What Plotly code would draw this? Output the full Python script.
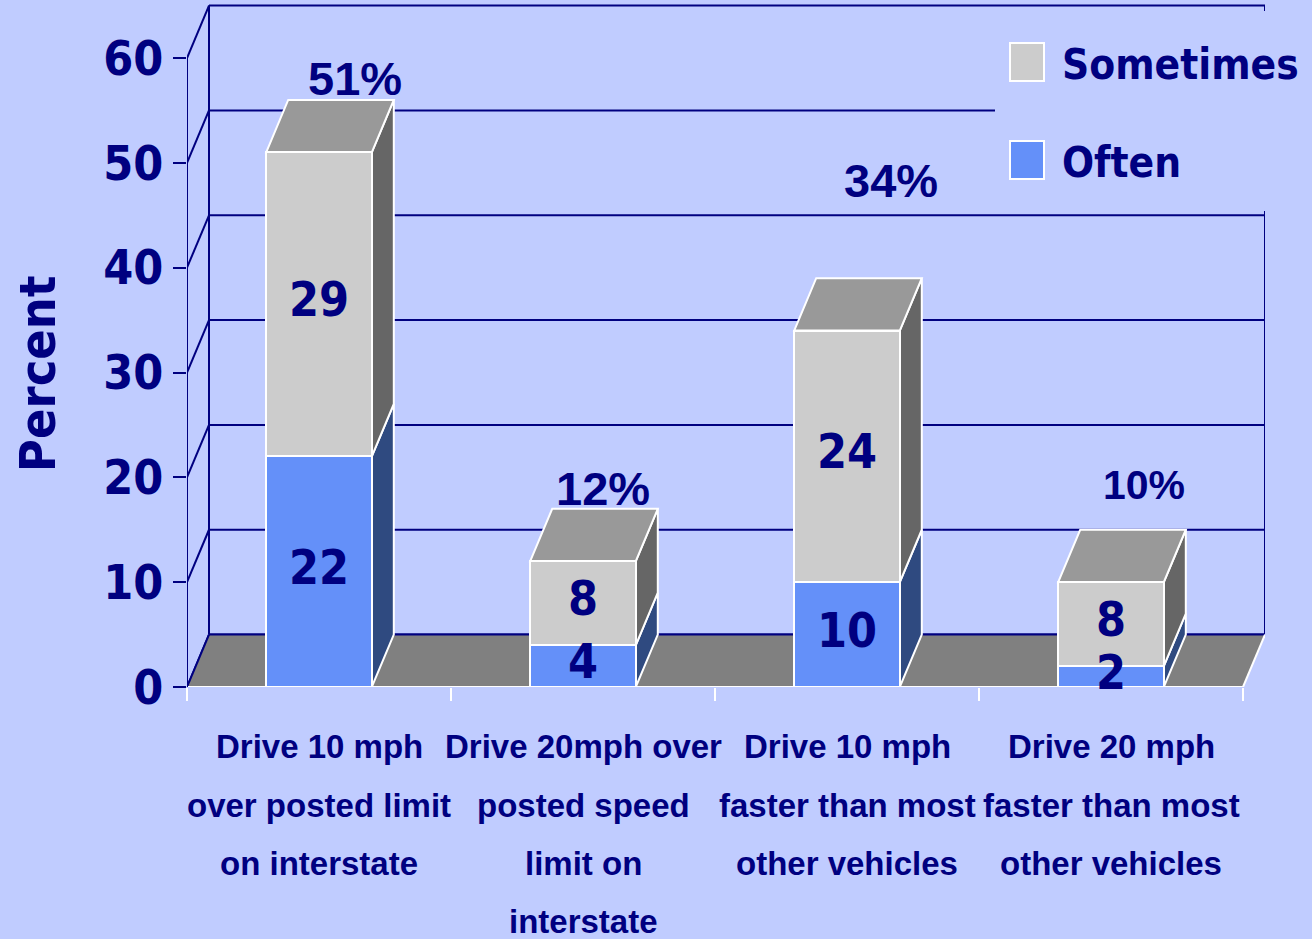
import plotly.graph_objects as go

# ─── Data ─────────────────────────────────────────────────────────────────────
categories = [
    "Drive 10 mph\nover posted limit\non interstate",
    "Drive 20mph over\nposted speed\nlimit on\ninterstate",
    "Drive 10 mph\nfaster than most\nother vehicles",
    "Drive 20 mph\nfaster than most\nother vehicles",
]
often = [22, 4, 10, 2]
sometimes = [29, 8, 24, 8]
y_ticks = [0, 10, 20, 30, 40, 50, 60]

# ─── Theme ────────────────────────────────────────────────────────────────────
BG = "#C0CCFF"
NAVY = "#000080"
GREY_FRONT = "#CCCCCC"
GREY_TOP = "#999999"
GREY_SIDE = "#666666"
BLUE_FRONT = "#6490F9"
BLUE_SIDE = "#2F4A80"
FLOOR = "#808080"
NARROW = "DejaVu Sans Condensed, sans-serif"
WIDE = "Liberation Sans, Arial, sans-serif"

W, H = 1312, 939
L, R, T, B = 187, 47, 4, 252
PW, PH = W - L - R, H - T - B
DX = 22 / 264          # depth offset in category units
DY = 5                 # depth offset in percent units
YTOP = PH / 10.483
BAR_W = 0.4

n = len(categories)
xs = list(range(n))
totals = [a + b for a, b in zip(often, sometimes)]


def px_x(p):
    return (p - L) / PW


def px_y(p):
    return (H - B - p) / PH


def line(x0, y0, x1, y1, color=NAVY, width=2):
    return dict(type="line", x0=x0, y0=y0, x1=x1, y1=y1, xref="x", yref="y",
                line=dict(color=color, width=width), layer="below")


def poly(pts, fill, edge="white"):
    path = "M " + " L ".join(f"{x},{y}" for x, y in pts) + " Z"
    return dict(type="path", path=path, xref="x", yref="y", fillcolor=fill,
                line=dict(color=edge, width=2), layer="below")


shapes = []

# back wall + left wall grid
for v in y_ticks:
    shapes.append(line(-0.5, v, -0.5 + DX, v + DY))
    shapes.append(line(-0.5 + DX, v + DY, n - 0.5 + DX, v + DY))
shapes.append(line(-0.5 + DX, DY, -0.5 + DX, y_ticks[-1] + DY))
shapes.append(line(n - 0.5 + DX, DY, n - 0.5 + DX, y_ticks[-1] + DY))

# floor
shapes.append(poly([(-0.5, 0), (n - 0.5, 0), (n - 0.5 + DX, DY), (-0.5 + DX, DY)],
                   FLOOR, edge="rgba(0,0,0,0)"))
shapes.append(line(-0.5, 0, -0.5 + DX, DY))
shapes.append(line(-0.5 + DX, DY, n - 0.5 + DX, DY))
shapes.append(line(n - 0.5, 0, n - 0.5 + DX, DY, color="white"))
shapes.append(line(-0.5, 0, n - 0.5, 0, color="white"))
# front y axis line
shapes.append(line(-0.5, 0, -0.5, y_ticks[-1]))

# bar side and top faces
for i in xs:
    x0, x1 = i - BAR_W / 2, i + BAR_W / 2
    segs = [(0, often[i], BLUE_SIDE), (often[i], totals[i], GREY_SIDE)]
    for y0, y1, c in segs:
        shapes.append(poly([(x1, y0), (x1 + DX, y0 + DY), (x1 + DX, y1 + DY), (x1, y1)], c))
    top = totals[i]
    shapes.append(poly([(x0, top), (x0 + DX, top + DY), (x1 + DX, top + DY), (x1, top)], GREY_TOP))

# legend cover box and swatches
shapes.append(dict(type="rect", xref="paper", yref="paper", x0=px_x(995), x1=px_x(1312),
                   y0=px_y(211), y1=px_y(11), fillcolor=BG, line=dict(width=0), layer="above"))
for (top_px, c) in [(43, GREY_FRONT), (141, BLUE_FRONT)]:
    shapes.append(dict(type="rect", xref="paper", yref="paper", x0=px_x(1010), x1=px_x(1044),
                       y0=px_y(top_px + 38), y1=px_y(top_px), fillcolor=c,
                       line=dict(color="white", width=2), layer="above"))

fig = go.Figure()
fig.add_trace(go.Bar(x=xs, y=often, name="Often", width=BAR_W,
                     marker=dict(color=BLUE_FRONT, line=dict(color="white", width=2))))
fig.add_trace(go.Bar(x=xs, y=sometimes, name="Sometimes", width=BAR_W,
                     marker=dict(color=GREY_FRONT, line=dict(color="white", width=2))))

# segment value labels
seg_x = xs + xs
seg_y = [v / 2 for v in often] + [o + s / 2 for o, s in zip(often, sometimes)]
seg_t = [str(v) for v in often] + [str(v) for v in sometimes]
fig.add_trace(go.Scatter(x=seg_x, y=seg_y, text=seg_t, mode="text", cliponaxis=False,
                         textfont=dict(family=NARROW, size=48, color=NAVY, weight="bold"),
                         hoverinfo="skip"))

annotations = []
# total percent labels (offsets in px from the bar top)
pct_shift = [(36, 74, 47), (20, 73, 47), (44, 150, 47), (33, 97, 41)]
for i in xs:
    dxp, dyp, fs = pct_shift[i]
    annotations.append(dict(x=i, y=totals[i], xref="x", yref="y", text=f"{totals[i]}%",
                            showarrow=False, xshift=dxp, yshift=dyp,
                            font=dict(family=WIDE, size=fs, color=NAVY, weight="bold")))

# category labels, one annotation per line to match the wide line spacing
line_px = [746, 805, 863, 921]
for i, cat in enumerate(categories):
    for k, txt in enumerate(cat.split("\n")):
        annotations.append(dict(x=i, y=0, xref="x", yref="y", text=txt, showarrow=False,
                                yshift=-(line_px[k] - (H - B)), yanchor="middle",
                                font=dict(family=WIDE, size=33, color=NAVY, weight="bold")))

# legend text
for txt, cy in [("Sometimes", 64), ("Often", 163)]:
    annotations.append(dict(x=px_x(1060), y=px_y(cy), xref="paper", yref="paper", text=txt,
                            showarrow=False, xanchor="left", yanchor="middle",
                            font=dict(family=NARROW, size=42, color=NAVY, weight="bold")))

# y axis title
annotations.append(dict(x=px_x(38), y=px_y(374), xref="paper", yref="paper", text="Percent",
                        showarrow=False, textangle=-90, xanchor="center", yanchor="middle",
                        font=dict(family=NARROW, size=50, color=NAVY, weight="bold")))

fig.update_layout(
    width=W, height=H,
    barmode="stack",
    showlegend=False,
    paper_bgcolor=BG, plot_bgcolor=BG,
    margin=dict(l=L, r=R, t=T, b=B),
    xaxis=dict(range=[-0.5, n - 0.5 + DX], showgrid=False, zeroline=False,
               tickvals=[i - 0.5 for i in range(n + 1)], ticks="outside", ticklen=13,
               tickcolor="white", tickwidth=2, showticklabels=False, showline=False),
    yaxis=dict(range=[0, YTOP], showgrid=False, zeroline=False, tickvals=y_ticks,
               ticks="outside", ticklen=13, tickcolor=NAVY, tickwidth=2, showline=False,
               tickfont=dict(family=NARROW, size=48, color=NAVY, weight="bold")),
    shapes=shapes,
    annotations=annotations,
)

fig.write_html("out.html", config={"displayModeBar": False},
               post_script="document.body.style.margin='0';")
